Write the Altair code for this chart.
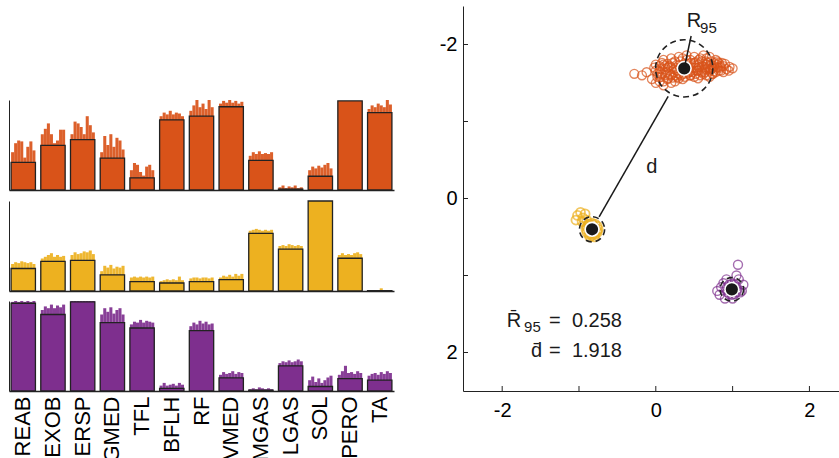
import math
import altair as alt
import pandas as pd

# ---------------- data ----------------
categories = ["REAB", "EXOB", "ERSP", "GMED", "TFL", "BFLH", "RF",
              "VMED", "MGAS", "LGAS", "SOL", "PERO", "TA"]

orange_mean = [0.306, 0.496, 0.56, 0.354, 0.134, 0.78, 0.82, 0.925, 0.33, 0.01, 0.153, 0.99, 0.86]
orange_spikes = [
    [0.42, 0.52, 0.55, 0.54, 0.36, 0.48, 0.54, 0.44],
    [0.62, 0.68, 0.74, 0.62, 0.52, 0.55, 0.67, 0.67],
    [0.62, 0.76, 0.74, 0.70, 0.62, 0.82, 0.72, 0.64],
    [0.42, 0.60, 0.50, 0.62, 0.48, 0.58, 0.55, 0.45],
    [0.22, 0.30, 0.28, 0.20, 0.16, 0.26, 0.28, 0.22],
    [0.82, 0.86, 0.84, 0.88, 0.84, 0.86, 0.85, 0.82],
    [0.88, 0.94, 1.00, 0.92, 0.96, 0.90, 1.00, 0.92],
    [0.96, 0.99, 0.97, 1.00, 0.97, 0.99, 0.96, 0.98],
    [0.38, 0.42, 0.40, 0.43, 0.40, 0.41, 0.40, 0.42],
    [0.03, 0.05, 0.02, 0.04, 0.03, 0.05, 0.02, 0.03],
    [0.22, 0.26, 0.24, 0.27, 0.25, 0.28, 0.30, 0.24],
    [0.99, 0.99, 0.99, 0.99, 0.99, 0.99, 0.99, 0.99],
    [0.90, 0.94, 0.92, 0.96, 0.94, 0.92, 1.00, 0.95],
]

yellow_mean = [0.25, 0.33, 0.34, 0.18, 0.104, 0.089, 0.104, 0.126, 0.64, 0.465, 1.0, 0.364, 0.004]
yellow_spikes = [
    [0.30, 0.32, 0.31, 0.33, 0.32, 0.31, 0.32, 0.30],
    [0.36, 0.38, 0.40, 0.42, 0.38, 0.40, 0.38, 0.39],
    [0.40, 0.43, 0.41, 0.42, 0.44, 0.43, 0.45, 0.41],
    [0.22, 0.28, 0.26, 0.29, 0.25, 0.27, 0.26, 0.28],
    [0.15, 0.16, 0.15, 0.16, 0.15, 0.16, 0.15, 0.16],
    [0.11, 0.12, 0.13, 0.12, 0.13, 0.12, 0.16, 0.12],
    [0.14, 0.15, 0.15, 0.14, 0.15, 0.15, 0.14, 0.15],
    [0.15, 0.17, 0.16, 0.18, 0.16, 0.19, 0.17, 0.19],
    [0.67, 0.68, 0.69, 0.68, 0.67, 0.68, 0.67, 0.68],
    [0.50, 0.51, 0.50, 0.52, 0.51, 0.50, 0.51, 0.50],
    [1.00, 1.00, 1.00, 1.00, 1.00, 1.00, 1.00, 1.00],
    [0.40, 0.42, 0.40, 0.41, 0.40, 0.42, 0.43, 0.41],
    [0.00, 0.00, 0.00, 0.00, 0.03, 0.00, 0.00, 0.00],
]

purple_mean = [0.975, 0.85, 0.99, 0.76, 0.70, 0.03, 0.67, 0.145, 0.01, 0.28, 0.05, 0.137, 0.12]
purple_spikes = [
    [0.99, 1.00, 0.99, 1.00, 0.99, 1.00, 0.99, 1.00],
    [0.90, 0.94, 0.92, 0.96, 0.92, 0.95, 0.93, 0.96],
    [1.00, 1.00, 1.00, 1.00, 1.00, 1.00, 1.00, 1.00],
    [0.85, 0.92, 0.88, 0.93, 0.86, 0.90, 0.92, 0.85],
    [0.74, 0.77, 0.76, 0.79, 0.76, 0.78, 0.77, 0.76],
    [0.06, 0.09, 0.06, 0.07, 0.08, 0.06, 0.09, 0.07],
    [0.72, 0.76, 0.74, 0.78, 0.75, 0.77, 0.74, 0.75],
    [0.18, 0.21, 0.19, 0.20, 0.22, 0.19, 0.21, 0.20],
    [0.02, 0.03, 0.02, 0.04, 0.03, 0.02, 0.03, 0.02],
    [0.31, 0.33, 0.32, 0.34, 0.32, 0.33, 0.35, 0.33],
    [0.12, 0.16, 0.10, 0.14, 0.09, 0.12, 0.15, 0.17],
    [0.18, 0.22, 0.28, 0.20, 0.21, 0.19, 0.22, 0.20],
    [0.17, 0.19, 0.20, 0.18, 0.21, 0.19, 0.22, 0.20],
]

# scatter samples
orange_x = [-0.28, -0.18, -0.12, -0.05, 0.00, 0.02, 0.05, 0.08, 0.10, 0.12, 0.15, 0.18, 0.20,
            0.22, 0.25, 0.28, 0.30, 0.33, 0.35, 0.38, 0.40, 0.42, 0.45, 0.48, 0.50, 0.52,
            0.55, 0.58, 0.60, 0.62, 0.65, 0.68, 0.70, 0.72, 0.75, 0.78, 0.80, 0.82, 0.85,
            0.88, 0.92, 0.96, 1.00, 0.10, 0.00, 0.05, 0.00, 0.10, 0.20, 0.30, 0.45, 0.60,
            0.05, 0.12, 0.18, 0.24, 0.28, 0.32, 0.36, 0.40, 0.44, 0.48, 0.52, 0.56, 0.60,
            0.64, 0.68, 0.72, 0.76, 0.80, 0.84, 0.20, 0.30, 0.40, 0.50, 0.62, 0.15, 0.25,
            0.35, 0.55, 0.66, 0.74, 0.90, 0.95, -0.02, 0.08, 0.70, 0.45,
            0.02, 0.06, 0.10, 0.14, 0.16, 0.20, 0.22, 0.26, 0.30, 0.32, 0.34, 0.38, 0.40,
            0.42, 0.46, 0.50, 0.52, 0.56, 0.58, 0.60, 0.64, 0.66, 0.70, 0.72, 0.74, 0.78,
            0.80, 0.82, 0.86, 0.88, 0.06, 0.16, 0.26, 0.36, 0.46, 0.56, 0.66, 0.76, 0.12,
            0.24, 0.34, 0.44, 0.54, 0.64, 0.74, 0.84]
orange_y = [-1.62, -1.60, -1.64, -1.55, -1.66, -1.58, -1.72, -1.61, -1.52, -1.68, -1.75, -1.62, -1.70,
            -1.57, -1.78, -1.66, -1.73, -1.60, -1.82, -1.68, -1.75, -1.63, -1.80, -1.70, -1.58, -1.77,
            -1.66, -1.82, -1.72, -1.62, -1.78, -1.69, -1.84, -1.74, -1.65, -1.80, -1.70, -1.76, -1.66,
            -1.72, -1.68, -1.71, -1.69, -1.80, -1.74, -1.52, -1.50, -1.47, -1.50, -1.56, -1.60, -1.64,
            -1.65, -1.60, -1.72, -1.64, -1.58, -1.70, -1.62, -1.66, -1.72, -1.64, -1.70, -1.74, -1.66,
            -1.70, -1.76, -1.68, -1.72, -1.78, -1.70, -1.82, -1.84, -1.86, -1.84, -1.86, -1.55, -1.52,
            -1.55, -1.56, -1.60, -1.62, -1.75, -1.66, -1.70, -1.76, -1.58, -1.60,
            -1.62, -1.68, -1.74, -1.64, -1.70, -1.60, -1.76, -1.70, -1.62, -1.78, -1.66, -1.58, -1.80,
            -1.70, -1.66, -1.76, -1.62, -1.70, -1.60, -1.78, -1.64, -1.74, -1.66, -1.78, -1.70, -1.64,
            -1.74, -1.66, -1.76, -1.64, -1.58, -1.56, -1.60, -1.74, -1.76, -1.80, -1.82, -1.76, -1.72,
            -1.68, -1.72, -1.64, -1.66, -1.68, -1.62, -1.72]
yellow_x = [-0.750, -0.762, -0.790, -0.830, -0.870, -0.898, -0.910, -0.898, -0.870, -0.830,
            -0.790, -0.762, -0.765, -0.800, -0.850, -0.895, -0.880, -0.820,
            -1.02, -0.98, -0.95, -0.92, -1.04, -0.96, -0.90, -0.86, -0.80]
yellow_y = [0.400, 0.360, 0.332, 0.320, 0.332, 0.360, 0.400, 0.440, 0.468, 0.480,
            0.468, 0.440, 0.420, 0.450, 0.455, 0.380, 0.345, 0.340,
            0.22, 0.18, 0.25, 0.20, 0.28, 0.30, 0.28, 0.50, 0.50]
purple_x = [1.060, 1.050, 1.025, 0.990, 0.955, 0.930, 0.920, 0.930, 0.955, 0.990, 1.025, 1.050,
            0.85, 0.83, 0.90, 1.10, 1.14, 1.08, 1.05, 0.92, 1.07, 0.88, 1.12, 1.00, 0.80]
purple_y = [1.180, 1.145, 1.120, 1.110, 1.120, 1.145, 1.180, 1.215, 1.240, 1.250, 1.240, 1.215,
            1.15, 1.25, 1.30, 1.22, 1.12, 1.05, 1.00, 1.05, 0.86, 1.10, 1.20, 1.30, 1.20]

centers_x = [0.37, -0.83, 0.99]
centers_y = [-1.69, 0.40, 1.18]
r95 = [0.42, 0.185, 0.173]

r95_line_x = [0.37, 0.46]
r95_line_y = [-1.69, -2.11]
d_line_x = [0.161, -0.738]
d_line_y = [-1.326, 0.24]

ORANGE = "#D95319"
YELLOW = "#EDB120"
PURPLE = "#7E2F8E"
FONT = "Liberation Sans"

# ---------------- left bar panels ----------------
PW, PH = 385, 90


def panel(mean, spikes, color, bottom):
    df_m = pd.DataFrame({"cat": categories, "v": mean})
    rows = []
    for c, sp in zip(categories, spikes):
        for k, v in enumerate(sp):
            rows.append({"cat": c, "k": k, "v": v})
    df_s = pd.DataFrame(rows)
    if bottom:
        xaxis = alt.Axis(title=None, ticks=False, labelAngle=-90, labelFontSize=22,
                         labelFont=FONT, labelColor="black", labelPadding=5,
                         domainColor="#222", domainWidth=1.6, labelLimit=200)
    else:
        xaxis = alt.Axis(title=None, ticks=False, labels=False,
                         domainColor="#222", domainWidth=1.6)
    xs = alt.Scale(domain=categories, paddingInner=0.18, paddingOuter=0.07)
    yenc = alt.Y("v:Q", scale=alt.Scale(domain=[0, 1], nice=False),
                 axis=alt.Axis(title=None, labels=False, ticks=False, grid=False,
                               domainColor="#222", domainWidth=1))
    sp = alt.Chart(df_s).mark_bar(color=color, opacity=0.92, clip=True).encode(
        x=alt.X("cat:N", sort=categories, scale=xs, axis=xaxis),
        xOffset=alt.XOffset("k:O", scale=alt.Scale(paddingInner=0, paddingOuter=0)),
        y=yenc,
    )
    mb = alt.Chart(df_m).mark_bar(color=color, stroke="#222", strokeWidth=1.3).encode(
        x=alt.X("cat:N", sort=categories, scale=xs, axis=xaxis),
        y=yenc,
    )
    return alt.layer(sp, mb).properties(width=PW, height=PH)


spacer = alt.Chart(pd.DataFrame({"a": [0]})).mark_point(opacity=0).properties(width=PW, height=85)

left = alt.vconcat(
    spacer,
    panel(orange_mean, orange_spikes, ORANGE, False),
    panel(yellow_mean, yellow_spikes, YELLOW, False),
    panel(purple_mean, purple_spikes, PURPLE, True),
    spacing=9,
)

# ---------------- right scatter ----------------
RW, RH = 376, 385
XD = [-2.51, 2.385]
YD = [-2.5, 2.5]
pxu = RW / (XD[1] - XD[0])

xs = alt.Scale(domain=XD, nice=False, zero=False)
ys = alt.Scale(domain=YD, nice=False, zero=False, reverse=True)
label_expr = "datum.value % 2 == 0 ? (datum.value < 0 ? '-' + abs(datum.value) : '' + datum.value) : ''"
xaxis = alt.Axis(title=None, values=[-2, -1, 0, 1, 2], ticks=False, grid=False,
                 labelExpr=label_expr, labelFontSize=20, labelFont=FONT,
                 labelColor="black", labelPadding=9, domainColor="#222", domainWidth=1)
yaxis = alt.Axis(title=None, values=[-2, -1, 0, 1, 2], ticks=False, grid=False,
                 labelExpr=label_expr, labelFontSize=20, labelFont=FONT,
                 labelColor="black", labelPadding=6, domainColor="#222", domainWidth=1)


def X(f):
    return alt.X(f, type="quantitative", scale=xs, axis=xaxis)


def Y(f):
    return alt.Y(f, type="quantitative", scale=ys, axis=yaxis)


pts = pd.concat([
    pd.DataFrame({"x": orange_x, "y": orange_y, "g": "o", "w": 1.3}),
    pd.DataFrame({"x": yellow_x, "y": yellow_y, "g": "y", "w": 1.8}),
    pd.DataFrame({"x": purple_x, "y": purple_y, "g": "p", "w": 1.4}),
])
color_scale = alt.Scale(domain=["o", "y", "p"], range=[ORANGE, YELLOW, PURPLE])

points = alt.Chart(pts).mark_point(shape="circle", filled=False, size=80).encode(
    x=X("x"), y=Y("y"),
    color=alt.Color("g:N", scale=color_scale, legend=None),
    strokeWidth=alt.StrokeWidth("w:Q", scale=None, legend=None),
)

cdf = pd.DataFrame({"x": centers_x, "y": centers_y,
                    "s": [math.pi * (r * pxu) ** 2 for r in r95]})
circles = alt.Chart(cdf).mark_point(shape="circle", filled=False, color="#222",
                                   strokeWidth=1.6, strokeDash=[6, 4], opacity=1).encode(
    x=X("x"), y=Y("y"), size=alt.Size("s:Q", scale=None, legend=None),
)
dots = alt.Chart(cdf).mark_point(shape="circle", filled=True, fill="#1a1a1a", stroke="white",
                                strokeWidth=1.6, size=190, opacity=1).encode(
    x=X("x"), y=Y("y"),
)

ldf = pd.DataFrame({"x": [r95_line_x[0], d_line_x[0]], "y": [r95_line_y[0], d_line_y[0]],
                    "x2": [r95_line_x[1], d_line_x[1]], "y2": [r95_line_y[1], d_line_y[1]]})
lines = alt.Chart(ldf).mark_rule(color="#1a1a1a", strokeWidth=1.5).encode(
    x=X("x"), y=Y("y"), x2="x2", y2="y2",
)

NB = "\u00a0"
ann_text = ["R", "95", "d", "R\u0304", "95", "=" + NB + NB + "0.258", "d\u0304", "=" + NB + NB + "1.918"]
ann_x = [0.404, 0.577, -0.052, -1.94, -1.715, -1.389, -1.48, -1.389]
ann_y = [-2.233, -2.15, -0.333, 1.671, 1.736, 1.671, 2.061, 2.061]
ann_fs = [20, 15, 20, 20, 15, 20, 20, 20]
ann_align = ["left", "left", "center", "left", "left", "left", "right", "left"]
adf = pd.DataFrame({"t": ann_text, "x": ann_x, "y": ann_y, "fs": ann_fs, "al": ann_align})


def txt(al):
    return alt.Chart(adf[adf["al"] == al]).mark_text(
        align=al, baseline="alphabetic", font=FONT, color="#1a1a1a").encode(
        x=X("x"), y=Y("y"), text="t:N", size=alt.Size("fs:Q", scale=None, legend=None),
    )


tick_df = pd.DataFrame({"v": [-2, -1, 0, 1, 2]})
yticks = alt.Chart(tick_df).mark_rule(color="#222", strokeWidth=1).encode(
    y=Y("v"), x=alt.value(0), x2=alt.value(5))
xticks = alt.Chart(tick_df).mark_rule(color="#222", strokeWidth=1).encode(
    x=X("v"), y=alt.value(RH), y2=alt.value(RH - 5))

right = alt.layer(points, circles, dots, lines, txt("left"), txt("center"), txt("right"),
                  yticks, xticks).properties(width=RW, height=RH)

chart = (
    alt.hconcat(left, right, spacing=45)
    .properties(padding={"left": 9, "top": 6, "right": 0, "bottom": 0})
    .configure(font=FONT, background="white")
    .configure_view(stroke=None)
)

chart.save("out.html", embed_options={"renderer": "svg", "actions": False})
